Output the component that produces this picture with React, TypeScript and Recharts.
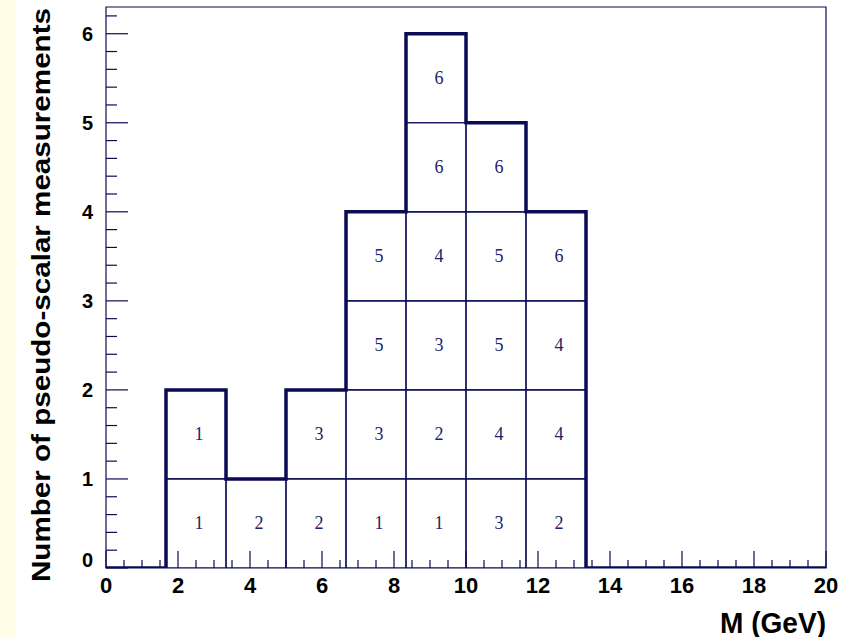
import React from 'react';
import {
  ComposedChart,
  Bar,
  Line,
  XAxis,
  YAxis,
  LabelList,
  ReferenceArea
} from 'recharts';

const INK = '#0b0b55';
const LABEL_INK = '#22226a';
const SANS = '"Liberation Sans", Arial, Helvetica, sans-serif';
const SERIF = '"Liberation Serif", "Times New Roman", Times, serif';

const X_MAX = 20;
const Y_MAX = 6.3;

// measurement index written in each box, bottom row first (null = empty)
const row1 = [null, 1, 2, 2, 1, 1, 3, 2, null, null, null, null];
const row2 = [null, 1, null, 3, 3, 2, 4, 4, null, null, null, null];
const row3 = [null, null, null, null, 5, 3, 5, 4, null, null, null, null];
const row4 = [null, null, null, null, 5, 4, 5, 6, null, null, null, null];
const row5 = [null, null, null, null, null, 6, 6, null, null, null, null, null];
const row6 = [null, null, null, null, null, 6, null, null, null, null, null, null];
const rows = [row1, row2, row3, row4, row5, row6];

const xLabels = [0, 2, 4, 6, 8, 10, 12, 14, 16, 18, 20];
const yLabels = [0, 1, 2, 3, 4, 5, 6];

const binCount = row1.length;
const binWidth = X_MAX / binCount;

const data = row1.map((_, i) => {
  const entry: Record<string, number | null> = { m: (i + 0.5) * binWidth, bin: i };
  rows.forEach((r, k) => {
    entry[`h${k}`] = r[i] == null ? 0 : 1;
    entry[`t${k}`] = r[i];
  });
  return entry;
});

// histogram contour: one point per left bin edge, drawn as a step
const counts = row1.map((_, i) => rows.filter((r) => r[i] != null).length);
const outline = [
  ...counts.map((c, i) => ({ m: i * binWidth, n: c })),
  { m: X_MAX, n: 0 }
];

// minor ticks every 0.5 GeV and every 0.2 entries
const xTicks = Array.from({ length: 41 }, (_, i) => i / 2);
const yTicks = Array.from({ length: 32 }, (_, i) => Math.round(i * 2) / 10);

const PLOT_LEFT = 106;
const PLOT_BOTTOM = 568;

const XTick = (props: any) => {
  const { x, payload } = props;
  const y = PLOT_BOTTOM;
  const major = xLabels.includes(payload.value);
  return (
    <g>
      <line x1={x} x2={x} y1={y} y2={y - (major ? 17 : 8)} stroke={INK} strokeWidth={1.2} />
      {major && (
        <text x={x} y={y + 25} textAnchor="middle" fontFamily={SANS} fontWeight="bold" fontSize={22} fill="#000">
          {payload.value}
        </text>
      )}
    </g>
  );
};

const YTick = (props: any) => {
  const { y, payload } = props;
  const x = PLOT_LEFT;
  const major = yLabels.includes(payload.value);
  const shift = payload.value === 0 ? -8 : 0;
  return (
    <g>
      <line x1={x} x2={x + (major ? 22 : 11)} y1={y} y2={y} stroke={INK} strokeWidth={1.2} />
      {major && (
        <text x={x - 13} y={y + 7 + shift} textAnchor="end" fontFamily={SANS} fontWeight="bold" fontSize={20} fill="#000">
          {payload.value}
        </text>
      )}
    </g>
  );
};

const CellLabel = (props: any) => {
  const vb = props.viewBox ?? props;
  const { value } = props;
  if (value == null || !vb || !vb.height) return null;
  return (
    <text
      x={vb.x + vb.width / 2 + 3}
      y={vb.y + vb.height / 2 + 6}
      textAnchor="middle"
      fontFamily={SERIF}
      fontSize={18}
      fill={LABEL_INK}
    >
      {value}
    </text>
  );
};

export default function App() {
  return (
    <div style={{ position: 'absolute', left: 0, top: 0, width: 846, height: 637, background: '#fff', overflow: 'hidden' }}>
      <div style={{ position: 'absolute', left: 0, top: 0, width: 16, height: 637, background: '#fffde6' }} />
      <div style={{ position: 'absolute', left: 0, top: 0 }}>
        <ComposedChart
          width={846}
          height={637}
          data={data}
          margin={{ top: 7, right: 20, bottom: 0, left: 0 }}
          barCategoryGap={0}
          barGap={0}
        >
          <XAxis xAxisId="bins" dataKey="bin" type="category" hide />
          <XAxis
            xAxisId="mass"
            dataKey="m"
            type="number"
            domain={[0, X_MAX]}
            allowDataOverflow
            ticks={xTicks}
            interval={0}
            height={69}
            axisLine={false}
            tickLine={false}
            tickSize={0}
            tickMargin={0}
            tick={<XTick />}
          />
          <YAxis
            type="number"
            domain={[0, Y_MAX]}
            allowDataOverflow
            ticks={yTicks}
            interval={0}
            width={PLOT_LEFT}
            axisLine={false}
            tickLine={false}
            tickSize={0}
            tickMargin={0}
            tick={<YTick />}
          />
          <ReferenceArea xAxisId="mass" x1={0} x2={X_MAX} y1={0} y2={Y_MAX} fill="none" stroke={INK} strokeWidth={1.2} />
          {rows.map((_, k) => (
            <Bar
              key={k}
              xAxisId="bins"
              dataKey={`h${k}`}
              stackId="boxes"
              fill="none"
              stroke={INK}
              strokeWidth={1.2}
              isAnimationActive={false}
            >
              <LabelList dataKey={`t${k}`} position="center" content={<CellLabel />} />
            </Bar>
          ))}
          <Line
            xAxisId="mass"
            data={outline}
            dataKey="n"
            type="stepAfter"
            stroke={INK}
            strokeWidth={3.5}
            dot={false}
            activeDot={false}
            isAnimationActive={false}
          />
        </ComposedChart>
      </div>
      <svg width={846} height={637} style={{ position: 'absolute', left: 0, top: 0, pointerEvents: 'none' }}>
        <text
          transform="translate(50, 295) rotate(-90)"
          textAnchor="middle"
          fontFamily={SANS}
          fontWeight="bold"
          fontSize={25}
          textLength={574}
          lengthAdjust="spacingAndGlyphs"
          fill="#000"
        >
          Number of pseudo-scalar measurements
        </text>
        <text
          x={826}
          y={633}
          textAnchor="end"
          fontFamily={SANS}
          fontWeight="bold"
          fontSize={29}
          textLength={106}
          lengthAdjust="spacingAndGlyphs"
          fill="#000"
        >
          M (GeV)
        </text>
      </svg>
    </div>
  );
}
